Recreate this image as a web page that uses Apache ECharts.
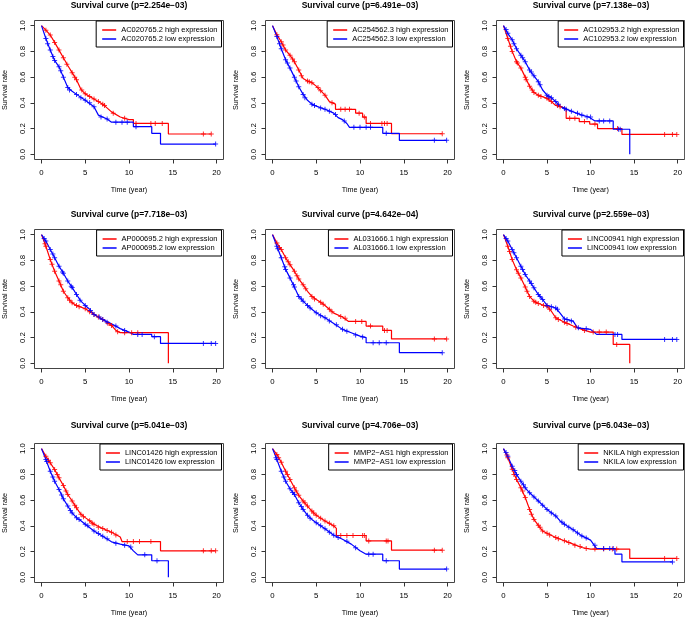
<!DOCTYPE html>
<html><head><meta charset="utf-8">
<script src="https://cdn.jsdelivr.net/npm/echarts@6/dist/echarts.min.js"></script>
<style>html,body{margin:0;padding:0;background:#fff}#c{width:685px;height:619px}</style>
</head><body><div id="c"></div>
<script>
// ---------- DATA ----------
const genes = ['AC020765.2','AC254562.3','AC102953.2','AP000695.2','AL031666.1','LINC00941','LINC01426','MMP2\u2212AS1','NKILA'];
const pValues = ['2.254e\u221203','6.491e\u221203','7.138e\u221203','7.718e\u221203','4.642e\u221204','2.559e\u221203','5.041e\u221203','4.706e\u221203','6.043e\u221203'];
const timeTicks = [0,5,10,15,20];
const rateTicks = [0,0.2,0.4,0.6,0.8,1.0];
const rateTickLabels = ['0.0','0.2','0.4','0.6','0.8','1.0'];

// Curve vertices [time, survival] and censoring marks [time, survival]
const AC020765_high = [[0,1],[0.5,0.965],[1,0.927],[1.5,0.87],[2,0.81],[2.5,0.75],[3,0.69],[3.5,0.635],[4,0.58],[4.5,0.505],[5,0.47],[6,0.43],[7,0.39],[8,0.33],[9,0.29],[10,0.27],[10.5,0.27],[10.5,0.24],[14.5,0.24],[14.5,0.158],[19.4,0.158]];
const AC020765_high_cens = [[0.5,0.965],[1,0.927],[1.5,0.87],[2,0.81],[2.5,0.75],[2.9,0.7],[3.5,0.635],[3.8,0.6],[4,0.58],[4.6,0.5],[5,0.47],[5.5,0.45],[6,0.43],[6.5,0.41],[7,0.39],[7.2,0.38],[8.2,0.32],[9.5,0.28],[10.8,0.24],[12.5,0.24],[13,0.24],[13.8,0.24],[18.5,0.158],[19.4,0.158]];
const AC020765_low = [[0,1],[0.5,0.9],[1,0.81],[1.5,0.73],[2,0.68],[2.5,0.6],[3,0.52],[3.5,0.49],[4,0.466],[5,0.42],[6,0.37],[6.5,0.305],[7.5,0.275],[8,0.25],[10.5,0.25],[10.5,0.215],[12.6,0.215],[12.6,0.163],[13.6,0.163],[13.6,0.08],[19.9,0.08]];
const AC020765_low_cens = [[0.5,0.9],[0.7,0.86],[1,0.81],[1.3,0.76],[1.5,0.73],[2,0.68],[2.2,0.65],[2.5,0.6],[3,0.52],[3.2,0.5],[4,0.466],[4.5,0.44],[5,0.42],[5.5,0.4],[6,0.37],[6.8,0.29],[7.5,0.275],[8.5,0.25],[9.2,0.25],[9.8,0.25],[10.8,0.215],[19.9,0.08]];

const AC254562_high = [[0,1],[0.5,0.93],[1,0.875],[1.5,0.81],[2,0.77],[2.5,0.72],[3,0.655],[3.5,0.59],[4,0.57],[4.5,0.557],[5,0.53],[5.5,0.495],[6,0.46],[6.5,0.41],[7.2,0.39],[7.2,0.35],[9.5,0.35],[9.5,0.32],[10.3,0.32],[10.3,0.29],[10.7,0.29],[10.7,0.24],[13.6,0.24],[13.6,0.16],[19.4,0.16]];
const AC254562_high_cens = [[0.5,0.93],[1,0.875],[1.2,0.85],[1.5,0.81],[2,0.77],[2.3,0.74],[2.5,0.72],[3,0.655],[3.3,0.61],[4,0.57],[4.2,0.565],[4.5,0.557],[5.2,0.52],[5.5,0.495],[6,0.46],[6.8,0.4],[7.8,0.35],[8.3,0.35],[8.8,0.35],[9.9,0.32],[10.5,0.29],[11.2,0.24],[12.5,0.24],[12.8,0.24],[13.1,0.24],[19.4,0.16]];
const AC254562_low = [[0,1],[0.5,0.915],[1,0.82],[1.5,0.735],[2,0.67],[2.5,0.6],[3,0.525],[3.5,0.466],[4,0.42],[4.5,0.39],[5,0.375],[6,0.35],[7,0.32],[7.5,0.285],[8,0.27],[8.5,0.24],[8.8,0.21],[12.6,0.21],[12.6,0.163],[14.5,0.163],[14.5,0.109],[19.9,0.109]];
const AC254562_low_cens = [[0.5,0.915],[0.8,0.86],[1,0.82],[1.5,0.735],[1.7,0.71],[2,0.67],[2.5,0.6],[2.7,0.57],[3,0.525],[3.5,0.466],[3.7,0.44],[4.5,0.39],[4.8,0.38],[5.5,0.36],[6,0.35],[6.5,0.335],[7.2,0.31],[8.2,0.26],[9.3,0.21],[10,0.21],[10.7,0.21],[11.2,0.21],[13,0.163],[18.5,0.109],[19.9,0.109]];

const AC102953_high = [[0,1],[0.5,0.9],[1,0.8],[1.5,0.72],[2,0.67],[2.5,0.6],[3,0.53],[3.5,0.48],[4,0.46],[5,0.435],[5.5,0.41],[6,0.38],[6.5,0.37],[7.2,0.357],[7.2,0.28],[8.7,0.28],[8.7,0.255],[9.9,0.255],[9.9,0.235],[10.8,0.235],[10.8,0.2],[13.6,0.2],[13.6,0.155],[19.9,0.155]];
const AC102953_high_cens = [[0.5,0.9],[0.8,0.84],[1,0.8],[1.5,0.72],[1.6,0.71],[2,0.67],[2.5,0.6],[2.6,0.58],[3,0.53],[3.3,0.5],[3.5,0.48],[4,0.46],[4.3,0.45],[5,0.435],[5.2,0.43],[5.5,0.41],[6.2,0.38],[6.5,0.37],[7.6,0.28],[8.2,0.28],[9.3,0.255],[10.5,0.235],[13.1,0.2],[18.5,0.155],[19.4,0.155],[19.9,0.155]];
const AC102953_low = [[0,1],[0.5,0.94],[1,0.89],[1.5,0.82],[2,0.77],[2.5,0.72],[3,0.655],[3.5,0.61],[4,0.565],[4.5,0.5],[5,0.46],[5.5,0.44],[6,0.41],[6.5,0.375],[7,0.357],[8,0.33],[9,0.305],[9.8,0.29],[10.5,0.26],[12.6,0.26],[12.6,0.195],[14.5,0.195],[14.5,0]];
const AC102953_low_cens = [[0.3,0.97],[0.5,0.94],[1,0.89],[1.2,0.86],[1.5,0.82],[2,0.77],[2.2,0.75],[2.5,0.72],[3,0.655],[3.2,0.64],[3.5,0.61],[4,0.565],[4.2,0.54],[5,0.46],[5.2,0.45],[5.5,0.44],[6,0.41],[6.3,0.39],[7,0.357],[7.2,0.35],[7.8,0.335],[8.5,0.32],[9,0.305],[9.6,0.29],[10,0.29],[11,0.26],[11.5,0.26],[12.2,0.26],[13.2,0.195],[13.4,0.195]];

const AP000695_high = [[0,1],[0.5,0.91],[1,0.806],[1.5,0.716],[2,0.64],[2.5,0.56],[3,0.51],[3.5,0.47],[4,0.45],[5,0.424],[6,0.38],[7,0.34],[8,0.295],[8.5,0.256],[9,0.238],[14.5,0.238],[14.5,0]];
const AP000695_high_cens = [[0.4,0.93],[0.5,0.91],[1,0.806],[1.2,0.77],[1.5,0.716],[2,0.64],[2.2,0.61],[2.5,0.56],[3,0.51],[3.2,0.49],[3.5,0.47],[4,0.45],[4.3,0.44],[5,0.424],[5.5,0.4],[6,0.38],[6.5,0.36],[7,0.34],[7.6,0.31],[8,0.295],[8.7,0.245],[9.5,0.238],[10.3,0.238],[11,0.238]];
const AP000695_low = [[0,1],[0.5,0.95],[1,0.884],[1.5,0.82],[2,0.755],[2.5,0.7],[3,0.64],[3.5,0.59],[4,0.535],[4.5,0.483],[5,0.45],[5.5,0.42],[6,0.38],[7,0.34],[8,0.307],[9,0.27],[10,0.243],[10.5,0.225],[12.6,0.225],[12.6,0.207],[13.6,0.207],[13.6,0.155],[19.9,0.155]];
const AP000695_low_cens = [[0.3,0.97],[0.5,0.95],[1,0.884],[1.3,0.85],[1.5,0.82],[2,0.755],[2.4,0.71],[2.5,0.7],[3,0.64],[3.4,0.6],[3.5,0.59],[4,0.535],[4.4,0.49],[5,0.45],[5.6,0.41],[6,0.38],[6.6,0.36],[7,0.34],[7.5,0.32],[8.5,0.29],[9.5,0.255],[11,0.225],[11.5,0.225],[12.9,0.207],[18.5,0.155],[19.4,0.155],[19.9,0.155]];

const AL031666_high = [[0,1],[0.5,0.935],[1,0.884],[1.5,0.82],[2,0.767],[2.5,0.716],[3,0.656],[3.5,0.61],[4,0.56],[4.5,0.52],[5,0.496],[5.5,0.475],[6,0.45],[6.5,0.42],[7,0.39],[8,0.36],[8.7,0.326],[10.7,0.326],[10.7,0.29],[12.6,0.29],[12.6,0.256],[13.6,0.256],[13.6,0.19],[19.9,0.19]];
const AL031666_high_cens = [[0.5,0.935],[0.8,0.9],[1,0.884],[1.5,0.82],[1.8,0.79],[2,0.767],[2.5,0.716],[2.8,0.68],[3,0.656],[3.5,0.61],[3.8,0.58],[4.5,0.52],[4.8,0.5],[5.5,0.475],[5.8,0.46],[6.5,0.42],[6.8,0.4],[7.8,0.365],[8.3,0.35],[9.5,0.326],[10.2,0.326],[11.2,0.29],[12.8,0.256],[13.1,0.256],[18.5,0.19],[19.9,0.19]];
const AL031666_low = [[0,1],[0.5,0.91],[1,0.82],[1.5,0.73],[2,0.664],[2.5,0.594],[3,0.52],[3.5,0.483],[4,0.45],[4.5,0.42],[5,0.393],[6,0.354],[7,0.31],[8,0.264],[9,0.238],[10,0.212],[10.7,0.2],[10.7,0.16],[14.5,0.16],[14.5,0.083],[19.4,0.083]];
const AL031666_low_cens = [[0.5,0.91],[0.6,0.89],[1,0.82],[1.4,0.75],[1.5,0.73],[2,0.664],[2.4,0.61],[2.5,0.594],[3,0.52],[3.3,0.5],[3.5,0.483],[4,0.45],[4.3,0.43],[5,0.393],[5.5,0.37],[6,0.354],[6.5,0.33],[7.3,0.3],[8,0.264],[8.5,0.25],[9.5,0.22],[10.3,0.205],[11.5,0.16],[12.2,0.16],[13,0.16],[19.4,0.083]];

const LINC00941_high = [[0,1],[0.5,0.91],[1,0.806],[1.5,0.728],[2,0.664],[2.5,0.594],[3,0.52],[3.5,0.483],[4,0.465],[5,0.444],[5.5,0.405],[6,0.354],[7,0.32],[8,0.29],[9,0.264],[10,0.243],[12.6,0.243],[12.6,0.147],[14.5,0.147],[14.5,0]];
const LINC00941_high_cens = [[0.5,0.91],[0.7,0.87],[1,0.806],[1.5,0.728],[1.7,0.7],[2,0.664],[2.5,0.594],[2.7,0.56],[3,0.52],[3.5,0.483],[3.7,0.475],[4,0.465],[4.6,0.45],[5,0.444],[5.3,0.42],[6,0.354],[6.3,0.34],[7,0.32],[7.3,0.31],[8.3,0.28],[9.3,0.255],[10.3,0.243],[11,0.243],[11.8,0.243],[13,0.147]];
const LINC00941_low = [[0,1],[0.5,0.95],[1,0.884],[1.5,0.82],[2,0.755],[2.5,0.69],[3,0.64],[3.5,0.587],[4,0.535],[4.5,0.496],[5,0.45],[6,0.43],[6.5,0.39],[7,0.345],[8,0.328],[8.5,0.276],[10,0.264],[10.7,0.225],[13.6,0.225],[13.6,0.186],[19.9,0.186]];
const LINC00941_low_cens = [[0.3,0.97],[0.5,0.95],[1,0.884],[1.2,0.86],[1.5,0.82],[2,0.755],[2.2,0.73],[2.5,0.69],[3,0.64],[3.2,0.62],[3.5,0.587],[4,0.535],[4.2,0.52],[4.5,0.496],[5,0.45],[5.5,0.44],[6,0.43],[6.2,0.42],[7,0.345],[7.3,0.34],[7.8,0.33],[8.6,0.276],[9.5,0.268],[12.8,0.225],[13.1,0.225],[18.5,0.186],[19.4,0.186],[19.9,0.186]];

const LINC01426_high = [[0,1],[0.5,0.94],[1,0.89],[1.5,0.838],[2,0.773],[2.5,0.714],[3,0.644],[3.5,0.593],[4,0.54],[4.5,0.49],[5,0.464],[5.5,0.44],[6,0.412],[7,0.38],[8,0.35],[9,0.314],[9.2,0.278],[13.6,0.278],[13.6,0.206],[19.9,0.206]];
const LINC01426_high_cens = [[0.5,0.94],[0.8,0.91],[1,0.89],[1.5,0.838],[1.8,0.8],[2,0.773],[2.5,0.714],[2.8,0.67],[3,0.644],[3.5,0.593],[3.8,0.56],[4,0.54],[4.5,0.49],[4.8,0.47],[5.5,0.44],[5.8,0.42],[6,0.412],[6.5,0.39],[7,0.38],[7.5,0.365],[8,0.35],[8.5,0.33],[9.8,0.278],[10.5,0.278],[11.2,0.278],[12.5,0.278],[18.5,0.206],[19.4,0.206],[19.9,0.206]];
const LINC01426_low = [[0,1],[0.5,0.915],[1,0.825],[1.5,0.747],[2,0.683],[2.5,0.61],[3,0.554],[3.5,0.5],[4,0.464],[4.5,0.44],[5,0.412],[6,0.36],[7,0.32],[8,0.276],[9,0.258],[10,0.245],[10.5,0.206],[11,0.175],[12.6,0.175],[12.6,0.129],[14.5,0.129],[14.5,0]];
const LINC01426_low_cens = [[0.5,0.915],[0.6,0.9],[1,0.825],[1.3,0.78],[1.5,0.747],[2,0.683],[2.3,0.64],[2.5,0.61],[3,0.554],[3.3,0.52],[3.5,0.5],[4,0.464],[4.3,0.45],[5,0.412],[5.3,0.4],[6,0.36],[6.5,0.34],[7,0.32],[7.5,0.3],[8.5,0.265],[9.5,0.25],[10.2,0.235],[11.8,0.175],[13.2,0.129]];

const MMP2AS1_high = [[0,1],[0.5,0.954],[1,0.894],[1.5,0.825],[2,0.76],[2.5,0.696],[3,0.637],[3.5,0.593],[4,0.554],[4.5,0.515],[5,0.482],[6,0.438],[7,0.4],[7.3,0.38],[7.3,0.325],[10.7,0.325],[10.7,0.283],[13.6,0.283],[13.6,0.211],[19.4,0.211]];
const MMP2AS1_high_cens = [[0.5,0.954],[0.7,0.93],[1,0.894],[1.5,0.825],[1.7,0.8],[2,0.76],[2.5,0.696],[2.7,0.67],[3,0.637],[3.5,0.593],[3.7,0.58],[4,0.554],[4.5,0.515],[4.7,0.5],[5,0.482],[5.5,0.46],[6,0.438],[6.5,0.42],[7,0.4],[7.8,0.325],[8.5,0.325],[9.2,0.325],[10.3,0.325],[10.5,0.325],[11,0.283],[13,0.283],[13.2,0.283],[18.5,0.211],[19.4,0.211]];
const MMP2AS1_low = [[0,1],[0.5,0.915],[1,0.825],[1.5,0.747],[2,0.688],[2.5,0.644],[3,0.58],[3.5,0.528],[4,0.482],[4.5,0.45],[5,0.425],[6,0.378],[7,0.327],[8,0.296],[9,0.258],[10,0.206],[10.7,0.18],[12.6,0.18],[12.6,0.129],[14.5,0.129],[14.5,0.064],[19.9,0.064]];
const MMP2AS1_low_cens = [[0.4,0.93],[0.5,0.915],[1,0.825],[1.3,0.78],[1.5,0.747],[2,0.688],[2.3,0.66],[2.5,0.644],[3,0.58],[3.3,0.55],[3.5,0.528],[4,0.482],[4.3,0.46],[5,0.425],[5.5,0.4],[6,0.378],[6.5,0.35],[7,0.327],[7.5,0.31],[8.5,0.28],[9.5,0.23],[11,0.18],[11.5,0.18],[13,0.129],[19.9,0.064]];

const NKILA_high = [[0,1],[0.5,0.93],[1,0.84],[1.5,0.76],[2,0.696],[2.5,0.62],[3,0.528],[3.5,0.45],[4,0.404],[4.5,0.36],[5,0.343],[6,0.31],[7,0.284],[8,0.258],[9,0.232],[10,0.22],[14.5,0.22],[14.5,0.147],[19.9,0.147]];
const NKILA_high_cens = [[0.4,0.95],[0.5,0.93],[1,0.84],[1.2,0.8],[1.5,0.76],[2,0.696],[2.2,0.67],[2.5,0.62],[3,0.528],[3.2,0.49],[3.5,0.45],[4,0.404],[4.2,0.39],[4.5,0.36],[5,0.343],[5.3,0.33],[6,0.31],[6.3,0.3],[7,0.284],[7.5,0.27],[8.2,0.25],[8.8,0.24],[9.5,0.225],[10.5,0.22],[11.5,0.22],[12.5,0.22],[13,0.22],[18.5,0.147],[19.9,0.147]];
const NKILA_low = [[0,1],[0.5,0.94],[1,0.863],[1.5,0.8],[2,0.747],[2.5,0.696],[3,0.657],[4,0.593],[5,0.528],[6,0.477],[6.5,0.438],[7,0.412],[8,0.37],[9,0.322],[10,0.289],[10.7,0.224],[12.8,0.224],[12.8,0.18],[13.6,0.18],[13.6,0.12],[19.4,0.12]];
const NKILA_low_cens = [[0.3,0.97],[0.5,0.94],[1,0.863],[1.3,0.83],[1.5,0.8],[2,0.747],[2.3,0.72],[2.5,0.696],[3,0.657],[3.5,0.625],[4,0.593],[4.5,0.56],[5,0.528],[5.5,0.5],[6,0.477],[6.7,0.43],[7,0.412],[7.5,0.39],[8,0.37],[8.5,0.345],[9,0.322],[9.5,0.305],[10.5,0.25],[11.5,0.224],[12.2,0.224],[12.6,0.224],[19.4,0.12]];

const highCurves = [AC020765_high, AC254562_high, AC102953_high, AP000695_high, AL031666_high, LINC00941_high, LINC01426_high, MMP2AS1_high, NKILA_high];
const highCens = [AC020765_high_cens, AC254562_high_cens, AC102953_high_cens, AP000695_high_cens, AL031666_high_cens, LINC00941_high_cens, LINC01426_high_cens, MMP2AS1_high_cens, NKILA_high_cens];
const lowCurves = [AC020765_low, AC254562_low, AC102953_low, AP000695_low, AL031666_low, LINC00941_low, LINC01426_low, MMP2AS1_low, NKILA_low];
const lowCens = [AC020765_low_cens, AC254562_low_cens, AC102953_low_cens, AP000695_low_cens, AL031666_low_cens, LINC00941_low_cens, LINC01426_low_cens, MMP2AS1_low_cens, NKILA_low_cens];

// ---------- LAYOUT / STYLE ----------
const W = 685;
const colLefts = [34.5, 265.5, 496.5];
const rowTops = [20.5, 229.5, 443.5];
const titleTops = [1, 210.5, 421.5];
const GW = 189, GH = 139;
const FONT = '"Liberation Sans", Arial, Helvetica, sans-serif';
const RED = '#ff0000', BLUE = '#0000ff';
const PLUS = 'path://M2,0H3V2H5V3H3V5H2V3H0V2H2Z';

const option = {
  animation: false, backgroundColor: '#fff',
  textStyle: { fontFamily: FONT },
  grid: [], xAxis: [], yAxis: [], title: [], legend: [], series: []
};

genes.forEach((g, i) => {
  const r = Math.floor(i / 3), c = i % 3;
  const left = colLefts[c], top = rowTops[r];
  const hiName = g + ' high expression', loName = g + ' low expression';
  option.grid.push({ left, top, width: GW, height: GH, show: true, borderColor: '#444', borderWidth: 1, backgroundColor: 'transparent' });
  option.xAxis.push({
    type: 'value', gridIndex: i, min: -0.8, max: 20.8,
    axisLine: { show: false, onZero: false }, splitLine: { show: false },
    axisTick: { show: true, length: 4, lineStyle: { color: '#333' }, customValues: timeTicks },
    axisLabel: { customValues: timeTicks, fontSize: 7.8, color: '#000', margin: 9, fontFamily: FONT },
    name: 'Time (year)', nameLocation: 'middle', nameGap: 27.5,
    nameTextStyle: { fontSize: 7.2, color: '#000', fontFamily: FONT }
  });
  option.yAxis.push({
    type: 'value', gridIndex: i, min: -0.04, max: 1.04,
    axisLine: { show: false, onZero: false }, splitLine: { show: false },
    axisTick: { show: true, length: 4, lineStyle: { color: '#333' }, customValues: rateTicks },
    axisLabel: { customValues: rateTicks, rotate: 90, fontSize: 7.8, color: '#000', margin: 8, fontFamily: FONT,
      formatter: v => { const k = rateTicks.findIndex(t => Math.abs(t - v) < 1e-6); return k >= 0 ? rateTickLabels[k] : ''; } },
    name: 'Survival rate', nameLocation: 'middle', nameGap: 26,
    nameTextStyle: { fontSize: 7.2, color: '#000', fontFamily: FONT }
  });
  option.title.push({
    text: 'Survival curve (p=' + pValues[i] + ')', left: left + GW / 2, top: titleTops[r],
    textAlign: 'center', textVerticalAlign: 'top', padding: 0,
    textStyle: { fontSize: 8.5, fontWeight: 'bold', color: '#000', fontFamily: FONT }
  });
  option.legend.push({
    data: [hiName, loName], orient: 'vertical', right: W - (left + GW - 2), top: top + 0.5,
    icon: 'rect', itemWidth: 14, itemHeight: 1.5, itemGap: 1, selectedMode: false,
    borderColor: '#000', borderWidth: 1, borderRadius: 0, padding: [5, 4, 4, 6], backgroundColor: '#fff',
    textStyle: { fontSize: 7.5, color: '#000', fontFamily: FONT }
  });
  option.series.push(
    { type: 'line', name: hiName, xAxisIndex: i, yAxisIndex: i, data: highCurves[i], showSymbol: false, symbol: 'none',
      lineStyle: { color: RED, width: 1.2 }, itemStyle: { color: RED }, silent: true, z: 2 },
    { type: 'line', name: loName, xAxisIndex: i, yAxisIndex: i, data: lowCurves[i], showSymbol: false, symbol: 'none',
      lineStyle: { color: BLUE, width: 1.2 }, itemStyle: { color: BLUE }, silent: true, z: 2 },
    { type: 'scatter', name: hiName + ' censored', xAxisIndex: i, yAxisIndex: i, data: highCens[i], symbol: PLUS, symbolSize: 5,
      itemStyle: { color: RED }, silent: true, z: 3 },
    { type: 'scatter', name: loName + ' censored', xAxisIndex: i, yAxisIndex: i, data: lowCens[i], symbol: PLUS, symbolSize: 5,
      itemStyle: { color: BLUE }, silent: true, z: 3 }
  );
});

const chart = echarts.init(document.getElementById('c'), null, { renderer: 'canvas', width: 685, height: 619 });
chart.setOption(option);
</script>
</body></html>
